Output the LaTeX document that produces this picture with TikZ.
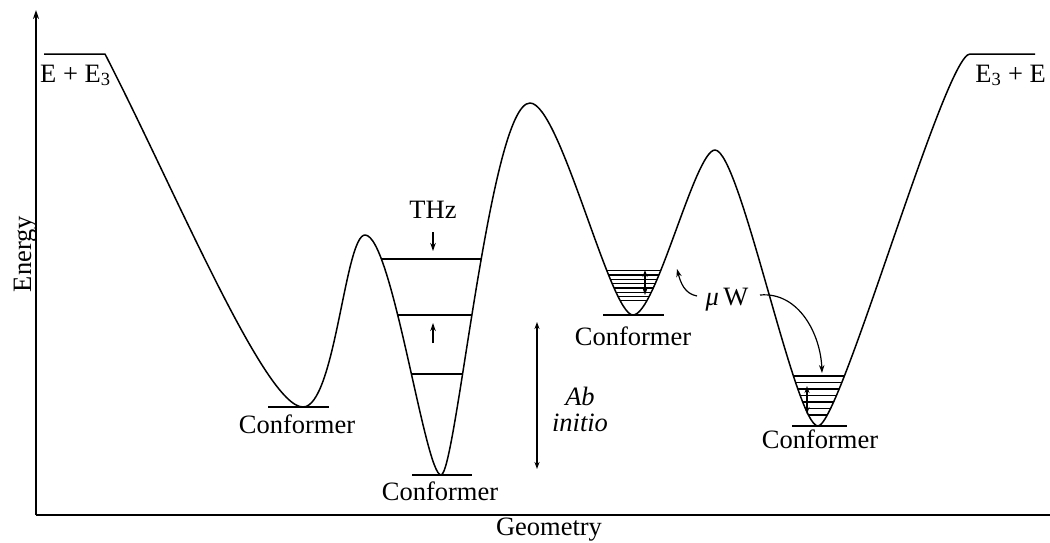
\documentclass[tikz,border=0pt]{standalone}
\usepackage{fontspec}
\setmainfont{Liberation Serif}
\usetikzlibrary{arrows.meta}
\begin{document}
\begin{tikzpicture}[x=1pt,y=-1pt,
  curve/.style={line width=1.5pt, line join=round},
  lvl/.style={line width=1.2pt},
  gnd/.style={line width=1.7pt},
  axis/.style={line width=1.4pt},
  arr/.style={line width=1.2pt,-{Stealth[length=8pt,width=5.5pt]}},
  darr/.style={line width=1.2pt,{Stealth[length=7pt,width=5pt]}-{Stealth[length=7pt,width=5pt]}},
  lbl/.style={font=\fontsize{26.5}{31}\selectfont, inner sep=0pt, anchor=base},
]
\useasboundingbox (0,0) rectangle (1050,542);
% axes
\coordinate (O) at (36,515);
\coordinate (Ytop) at (36,10);
\coordinate (Xend) at (1050,515);
\draw[axis,-{Stealth[length=9pt,width=6pt]}] (O) -- (Ytop);
\draw[axis] (O) -- (Xend);
% potential curve
\draw[curve] (44,54) -- (105,54)
  .. controls (175,190) and (265,407) .. (303,407)
  .. controls (335,407) and (345,235) .. (365,235)
  .. controls (392,235) and (425,475) .. (441,475)
  .. controls (456,475) and (490,103) .. (530,103)
  .. controls (560,103) and (610,315) .. (633,315)
  .. controls (656,315) and (695,150) .. (715,150)
  .. controls (740,150) and (795,426) .. (818,426)
  .. controls (840,426) and (945,54) .. (970,54) -- (1035,54);
% levels in deep well
\begin{scope}
\clip (365,235) .. controls (392,235) and (425,475) .. (441,475)
  .. controls (456,475) and (490,103) .. (530,103) -- cycle;
\foreach \yy in {259,315,374} \draw[lvl] (340,\yy) -- (540,\yy);
\end{scope}
% levels in third well
\begin{scope}
\clip (530,103) .. controls (560,103) and (610,315) .. (633,315)
  .. controls (656,315) and (695,150) .. (715,150) -- cycle;
\foreach \k in {0,...,7} \draw[lvl] (580,270.7+4.3*\k) -- (700,270.7+4.3*\k);
\end{scope}
% levels in fourth well
\begin{scope}
\clip (715,150) .. controls (740,150) and (795,426) .. (818,426)
  .. controls (840,426) and (945,54) .. (970,54) -- cycle;
\foreach \k in {0,...,6} \draw[lvl] (760,376+6.5*\k) -- (880,376+6.5*\k);
\end{scope}
% ground lines
\draw[gnd] (268,407) -- (329,407);
\draw[gnd] (412,475) -- (472,475);
\draw[gnd] (603,315) -- (664,315);
\draw[gnd] (792,426) -- (847,426);
% labels
\node[lbl, anchor=base west] (lpl) at (40,82) {E + E\textsubscript{3}};
\node[lbl, anchor=base east] (rpl) at (1046,82) {E\textsubscript{3} + E};
\node[lbl] (thz) at (433,218) {THz};
\node[lbl] (c1) at (297,433) {Conformer};
\node[lbl] (c2) at (440,500) {Conformer};
\node[lbl] (c3) at (633,345) {Conformer};
\node[lbl] (c4) at (820,448) {Conformer};
\node[lbl] (ab) at (580,405) {\itshape Ab};
\node[lbl] (ini) at (580,431) {\itshape initio};
\node[lbl] (mu) at (727,305) {{\itshape μ}\,W};
\node[lbl, rotate=90] (en) at (31,254) {Energy};
\node[lbl] (geo) at (549,535) {Geometry};
% arrows
\coordinate (thzA) at (433,232); \coordinate (thzB) at (433,251);
\draw[arr] (thzA) -- (thzB);
\coordinate (upA) at (433,343); \coordinate (upB) at (433,323);
\draw[arr] (upA) -- (upB);
\coordinate (w3a) at (645,270); \coordinate (w3b) at (645,295);
\draw[darr] (w3a) -- (w3b);
\coordinate (w4a) at (807,386); \coordinate (w4b) at (807,414);
\draw[darr] (w4a) -- (w4b);
\coordinate (aiA) at (537,322); \coordinate (aiB) at (537,469);
\draw[darr] (aiA) -- (aiB);
\coordinate (muL) at (697,296); \coordinate (muLt) at (677,269);
\draw[arr] (muL) to[out=170,in=-75] (muLt);
\coordinate (muR) at (760,295); \coordinate (muRt) at (822,373);
\draw[arr] (muR) to[out=5,in=92] (muRt);
\end{tikzpicture}
\end{document}
